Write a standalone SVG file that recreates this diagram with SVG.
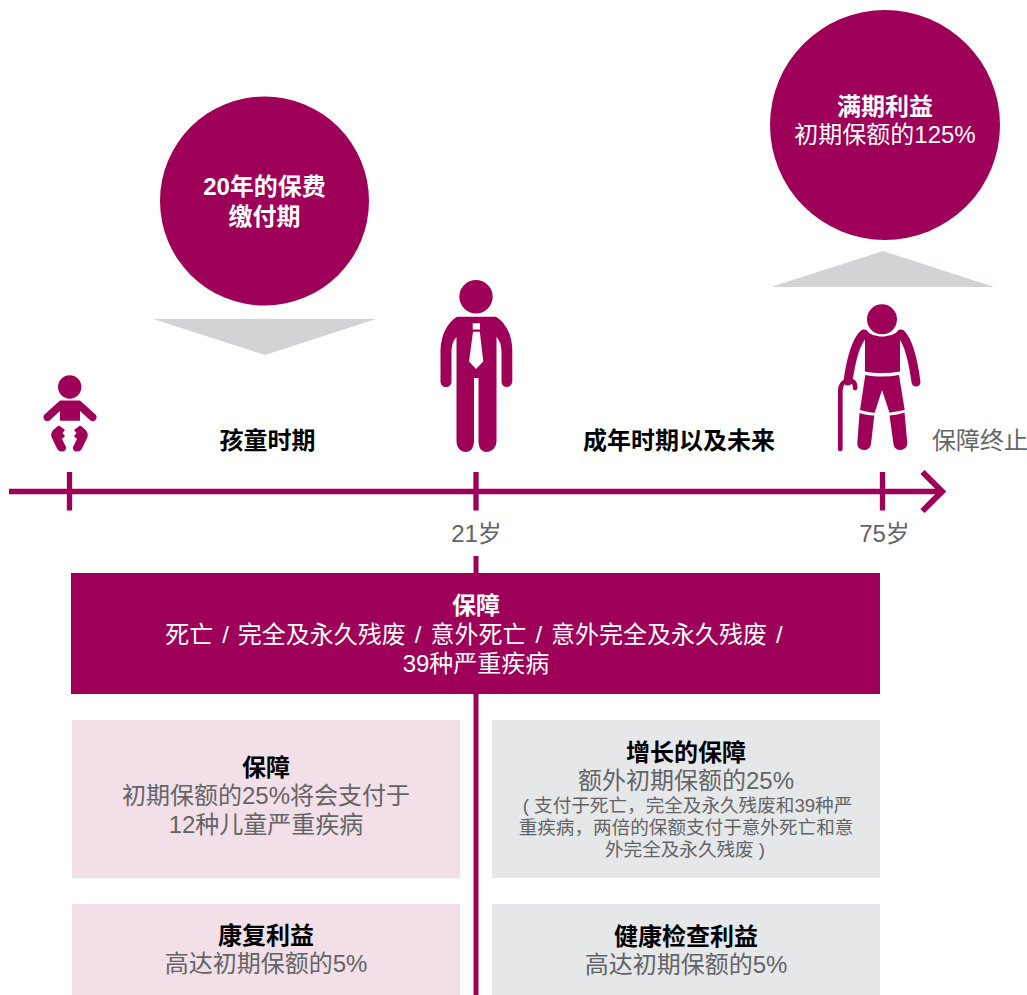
<svg xmlns="http://www.w3.org/2000/svg" width="1027" height="995" viewBox="0 0 1027 995">
<style>
text{font-family:"Liberation Sans","Noto Sans CJK SC",sans-serif;text-anchor:middle;font-size:24px;fill:#636466}
.b{font-weight:700;fill:#000}
.w{fill:#fff}
.wb{fill:#fff;font-weight:700}
.s{font-size:18.600px}
.m{fill:#9e0059}
.ln{stroke:#9e0059;fill:none}
.tri{fill:#d1d3d4}
.pink{fill:#f2dfe8}
.gray{fill:#e6e7e9}
</style>
<rect width="1027" height="995" fill="#fff"/>
<g id="connectors">
<path class="ln" stroke-width="5" d="M476 556V995"/>
<path class="ln" stroke-width="5.3" d="M9 491.500H941M69.500 472V510.500M476 472V510.500M882.500 472V510.500"/>
<path class="ln" stroke-width="6" d="M922.500 472L942 491.500L922.500 511"/>
</g>
<g id="circle-premium">
<circle class="m" cx="264.500" cy="201" r="104.500"/>
<text class="wb" x="264.500" y="195">20年的保费</text>
<text class="wb" x="264.500" y="225">缴付期</text>
</g>
<path id="arrow-down" class="tri" d="M153 319H376L265 355Z"/>
<g id="circle-maturity">
<circle class="m" cx="885" cy="125" r="115"/>
<text class="wb" x="885" y="115">满期利益</text>
<text class="w" x="885" y="143">初期保额的125%</text>
</g>
<path id="arrow-up" class="tri" d="M771 287H994L883 251Z"/>
<g id="baby">
<circle class="m" cx="69.700" cy="387" r="11.700"/>
<path class="m" d="M60 400.500H80L95.500 414.500C97 416 97 418 95.500 420C94 421.500 92 421.500 90.500 420.500L80 411V420.700H60V411L49.500 420.500C48 421.500 46 421.500 44.500 420C43 418 43 416 44.500 414.500Z"/>
<path class="m" d="M59 425.500L65 430L62.500 433L65 436L62 439L66 447C66.500 449.500 65 451.500 62 451.500C59.500 451.500 58 450.500 57 448.500L51.500 437C50.500 433 52 430 59 425.500Z"/>
<path class="m" d="M80 425.500L74 430L76.500 433L74 436L77 439L73 447C72.500 449.500 74 451.500 77 451.500C79.500 451.500 81 450.500 82 448.500L87.500 437C88.500 433 87 430 80 425.500Z"/>
</g>
<g id="adult">
<circle class="m" cx="476" cy="296.700" r="16.700"/>
<path class="m" d="M457 316.700H496C506 323 512 335 512.300 350V381C512.300 385 509.500 387 507 387C504 387 501.500 385 501.500 381V352C501.500 345 499.500 340 496.500 337V441C496.500 448 491 452 486.500 452C481.500 452 478.500 448 478.500 441V378H474V441C474 448 470.500 452 466 452C461 452 456.500 448 456.500 441V337C453.500 340 451.500 345 451.500 352V381C451.500 385 449 387 446 387C443 387 440.500 385 440.500 381V350C441 335 447 323 457 316.700Z"/>
<path fill="#fff" d="M472.700 323.300H480V329.500H472.700ZM473 331.700H479.800L483.300 361.500L476 369L469 361.500Z"/>
</g>
<g id="elder">
<circle class="m" cx="882" cy="319.300" r="15"/>
<path class="m" d="M865 329.500C870 334.500 876 336.500 882 336.500C888 336.500 895 334.500 900 329.500V371.500C888 373.500 876 373.500 865 371.500Z"/>
<path class="ln" stroke-width="9" stroke-linecap="round" d="M864 334C856 341 851 360 848 381M901 334C909 342 913 360 916 382"/>
<path class="m" d="M865.300 375C877 377 888 377 899 375L904.700 410C899 411 894 412 889.500 412.700L882 390L874.700 412.700C870 412.500 865 411.500 860 410Z"/>
<path class="m" d="M859.500 413C864 414.500 869 415.500 874.300 415.500L871 444C870.500 448 867 450 864 450C860 450 857 447 857.300 443Z"/>
<path class="m" d="M889.500 415.500C895 415 900 414 904.500 412.500L907.300 443C907.500 447 904 450 900.500 450C897 450 894 448 893.500 444Z"/>
<path class="ln" stroke-width="4.700" stroke-linecap="round" d="M840.300 449V391C840.300 377 857 378 855 388"/>
</g>
<g id="labels">
<text class="b" x="267.500" y="449">孩童时期</text>
<text class="b" x="679" y="449">成年时期以及未来</text>
<text x="980" y="449">保障终止</text>
<text x="476.500" y="542">21岁</text>
<text x="884.500" y="542">75岁</text>
</g>
<g id="box-cover">
<rect class="m" x="71" y="573" width="809" height="121"/>
<text class="wb" x="476" y="614">保障</text>
<text class="w" x="474" y="643" word-spacing="2.300">死亡 / 完全及永久残废 / 意外死亡 / 意外完全及永久残废 /</text>
<text class="w" x="476" y="672">39种严重疾病</text>
</g>
<g id="box-child">
<rect class="pink" x="72" y="720" width="388" height="158"/>
<text class="b" x="266" y="776">保障</text>
<text x="266" y="804">初期保额的25%将会支付于</text>
<text x="266" y="833">12种儿童严重疾病</text>
</g>
<g id="box-growth">
<rect class="gray" x="492" y="720" width="388" height="158"/>
<text class="b" x="686" y="761">增长的保障</text>
<text x="686" y="789">额外初期保额的25%</text>
<text class="s" x="687.500" y="812">( 支付于死亡，完全及永久残废和39种严</text>
<text class="s" x="686" y="834">重疾病，两倍的保额支付于意外死亡和意</text>
<text class="s" x="685" y="856">外完全及永久残废 )</text>
</g>
<g id="box-recovery">
<rect class="pink" x="72" y="904" width="388" height="91"/>
<text class="b" x="266" y="944">康复利益</text>
<text x="266" y="972">高达初期保额的5%</text>
</g>
<g id="box-health">
<rect class="gray" x="492" y="904" width="388" height="91"/>
<text class="b" x="686" y="945">健康检查利益</text>
<text x="686" y="973">高达初期保额的5%</text>
</g>
</svg>
